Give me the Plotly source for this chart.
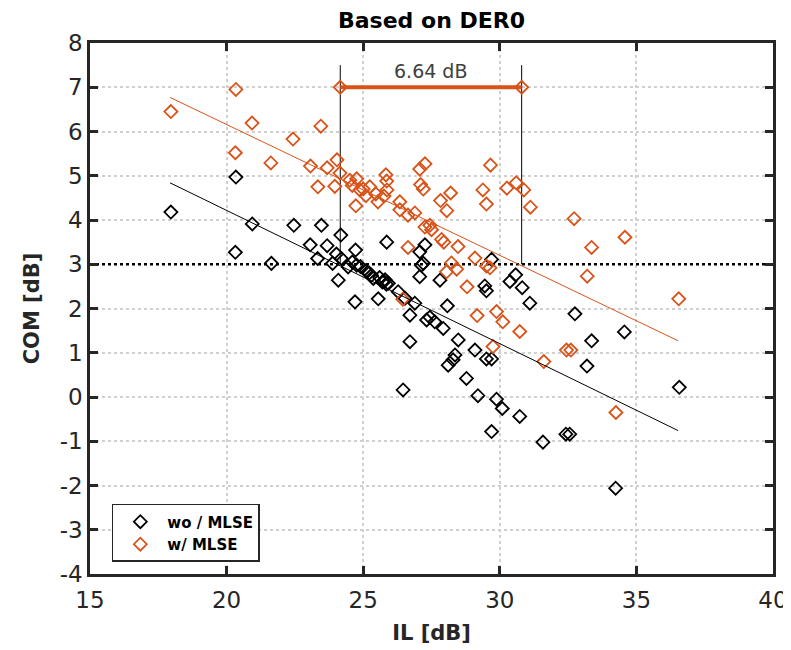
import plotly.graph_objects as go

# ---- data ----
wo_il = [17.96, 20.34, 20.32, 20.94, 21.64, 22.46, 23.06, 23.47, 23.33, 23.68,
         24.02, 23.88, 24.09, 24.18, 24.20, 24.45, 24.72, 24.76, 24.70, 25.22,
         25.37, 25.55, 25.76, 25.86, 25.92, 25.70, 25.80, 25.85, 25.60, 24.90,
         25.10, 25.30, 24.60, 26.28, 26.53, 26.46, 26.71, 26.71, 26.89, 27.07,
         27.13, 27.20, 27.26, 27.07, 27.32, 27.44, 27.62, 27.81, 27.93, 28.08,
         28.11, 28.29, 28.36, 28.48, 28.78, 29.09, 29.20, 29.45, 29.51, 29.51,
         29.70, 29.70, 29.70, 29.88, 30.09, 30.37, 30.58, 30.73, 30.82, 31.10,
         31.58, 32.42, 32.56, 32.75, 33.19, 33.36, 34.56, 34.24, 36.57]
wo_com = [4.18, 4.97, 3.27, 3.91, 3.02, 3.88, 3.44, 3.88, 3.13, 3.42,
          3.23, 3.02, 2.64, 3.66, 3.13, 2.94, 3.32, 2.98, 2.15, 2.80,
          2.68, 2.22, 2.61, 3.50, 2.57, 2.60, 2.65, 2.55, 2.70, 2.95,
          2.85, 2.75, 3.05, 2.38, 2.23, 0.16, 1.85, 1.25, 2.12, 2.72,
          2.98, 3.02, 3.44, 3.28, 1.74, 1.80, 1.70, 2.64, 1.55, 2.06,
          0.72, 0.84, 0.95, 1.29, 0.42, 1.06, 0.03, 2.51, 2.40, 0.86,
          0.86, 3.11, -0.78, -0.05, -0.26, 2.61, 2.76, -0.44, 2.47, 2.12,
          -1.02, -0.84, -0.84, 1.88, 0.70, 1.27, 1.47, -2.06, 0.22]

w_il = [17.96, 20.34, 20.32, 20.93, 21.62, 22.43, 23.45, 23.07, 23.34, 23.68,
        23.96, 24.04, 24.15, 24.51, 24.76, 24.88, 24.73, 25.24, 25.46, 25.54,
        25.83, 25.86, 25.87, 25.76, 24.60, 25.00, 25.10, 26.34, 26.34, 26.64,
        26.89, 27.07, 27.26, 27.10, 27.20, 27.26, 27.44, 27.50, 27.83, 28.20,
        28.06, 27.87, 27.95, 28.47, 26.64, 26.45, 29.66, 29.38, 29.51, 30.26,
        30.60, 30.88, 31.12, 29.09, 28.23, 28.05, 28.42, 29.51, 29.64, 28.80,
        29.17, 29.88, 30.11, 30.73, 29.75, 31.61, 32.44, 32.60, 32.72, 33.36,
        33.20, 34.58, 34.25, 36.55]
w_com = [6.45, 6.95, 5.52, 6.19, 5.29, 5.83, 6.12, 5.22, 4.75, 5.18,
         4.76, 5.36, 5.06, 4.90, 4.93, 4.68, 4.32, 4.75, 4.59, 4.41,
         5.02, 4.88, 4.68, 4.54, 4.78, 4.70, 4.55, 4.41, 4.23, 4.11,
         4.16, 5.15, 5.27, 4.80, 4.70, 3.84, 3.88, 3.78, 4.44, 4.61,
         4.21, 3.56, 3.50, 3.40, 3.38, 2.21, 5.24, 4.68, 4.36, 4.72,
         4.84, 4.68, 4.29, 3.14, 3.03, 2.83, 2.89, 2.96, 2.92, 2.49,
         1.84, 1.93, 1.70, 1.48, 1.14, 0.80, 1.06, 1.06, 4.03, 3.38,
         2.73, 3.61, -0.35, 2.22]

fit_il = [17.93, 36.53]
fit_wo = [4.84, -0.76]
fit_w = [6.77, 1.27]

threshold = 3.0
gap_il = [24.16, 30.80]
gap_com = 7.0
gap_top = 7.5
gap_label = "6.64 dB"

x_ticks = [15, 20, 25, 30, 35, 40]
y_ticks = [-4, -3, -2, -1, 0, 1, 2, 3, 4, 5, 6, 7, 8]
y_ticktext = ["-4", "-3", "-2", "-1", "0", "1", "2", "3", "4", "5", "6", "7", "8"]

ORANGE = "#D95319"
DARK = "#262626"
FONT = "DejaVu Sans"

fig = go.Figure()

# threshold line
fig.add_trace(go.Scatter(x=[15, 40], y=[threshold, threshold], mode="lines",
                         line=dict(color="black", width=2.5, dash="dot"),
                         showlegend=False, hoverinfo="skip"))

# vertical guide lines
for gx in gap_il:
    fig.add_trace(go.Scatter(x=[gx, gx], y=[threshold, gap_top], mode="lines",
                             line=dict(color="black", width=1),
                             showlegend=False, hoverinfo="skip"))

# scatter
fig.add_trace(go.Scatter(x=wo_il, y=wo_com, mode="markers", name="wo / MLSE",
                         marker=dict(symbol="diamond-open", size=10, color="black",
                                     line=dict(width=1.8, color="black"))))
fig.add_trace(go.Scatter(x=w_il, y=w_com, mode="markers", name="w/ MLSE",
                         marker=dict(symbol="diamond-open", size=10, color=ORANGE,
                                     line=dict(width=1.8, color=ORANGE))))

# fit lines
fig.add_trace(go.Scatter(x=fit_il, y=fit_wo, mode="lines",
                         line=dict(color="black", width=1),
                         showlegend=False, hoverinfo="skip"))
fig.add_trace(go.Scatter(x=fit_il, y=fit_w, mode="lines",
                         line=dict(color=ORANGE, width=1),
                         showlegend=False, hoverinfo="skip"))

# gap bar
fig.add_trace(go.Scatter(x=gap_il, y=[gap_com, gap_com], mode="lines+markers",
                         line=dict(color=ORANGE, width=4),
                         marker=dict(symbol="diamond-open", size=10, color=ORANGE,
                                     line=dict(width=1.8, color=ORANGE)),
                         showlegend=False, hoverinfo="skip"))

fig.add_annotation(x=sum(gap_il) / 2, y=gap_com, yshift=16, text=gap_label,
                   showarrow=False, font=dict(family=FONT, size=19, color="#404040"))

axis_common = dict(
    showline=True, linecolor=DARK, linewidth=2.5, mirror="ticks",
    ticks="inside", ticklen=8, tickwidth=2.5, tickcolor=DARK,
    showgrid=True, gridcolor="#d0d0d0", gridwidth=1.5, griddash="dot",
    zeroline=False, tickfont=dict(family=FONT, size=23, color=DARK),
    automargin=False,
)

fig.update_xaxes(range=[15, 40], tickvals=x_ticks, ticktext=[str(v) for v in x_ticks],
                 ticklabelstandoff=4,
                 title=dict(text="<b>IL [dB]</b>", font=dict(family=FONT, size=21, color=DARK),
                            standoff=13),
                 **axis_common)
fig.update_yaxes(range=[-4, 8], tickvals=y_ticks, ticktext=y_ticktext,
                 title=dict(text="<b>COM [dB]</b>", font=dict(family=FONT, size=21, color=DARK),
                            standoff=15),
                 **axis_common)

# figure sits inside the page body's 8px margin
fig.update_layout(
    width=783, height=642,
    margin=dict(l=82, r=18, t=35, b=76),
    plot_bgcolor="white", paper_bgcolor="white",
    title=dict(text="<b>Based on DER0</b>", x=0.5, xref="paper", xanchor="center",
               y=0.993, yanchor="top", font=dict(family=FONT, size=22, color="black")),
    legend=dict(x=0.032, y=0.132, xanchor="left", yanchor="top",
                bgcolor="white", bordercolor=DARK, borderwidth=1.5,
                font=dict(family=FONT, size=15, color="black", weight="bold"),
                itemwidth=44, tracegroupgap=0),
    showlegend=True,
)

fig.write_html("out.html")
